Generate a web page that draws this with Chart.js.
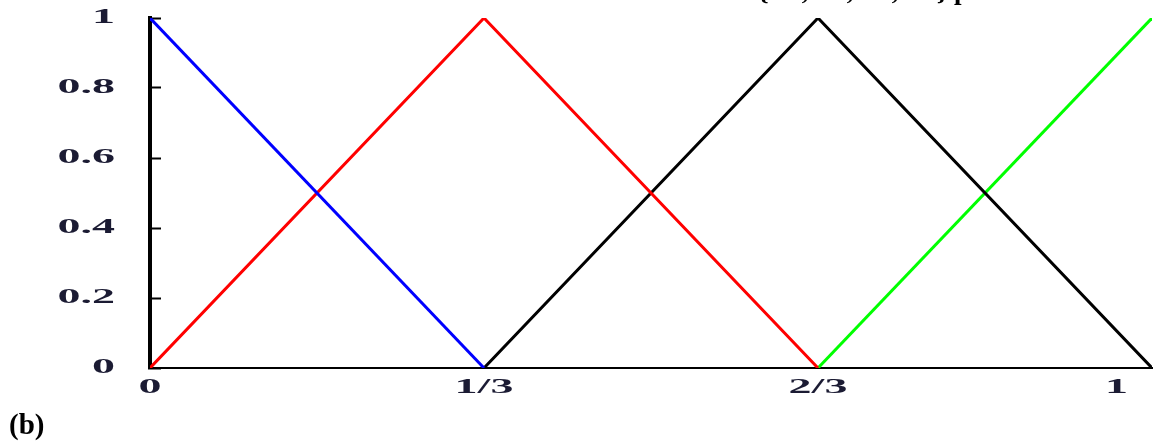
<!DOCTYPE html>
<html>
<head>
<meta charset="utf-8">
<script src="https://cdn.jsdelivr.net/npm/chart.js@4"></script>
<style>
  html, body { margin: 0; padding: 0; background: #fff; overflow: hidden; }
  #wrap { position: relative; width: 1154px; height: 444px; }
  #partChart { position: absolute; left: 0; top: 0; }
  .caption { position: absolute; font-family: "Liberation Serif", "Times New Roman", serif; font-weight: bold; color: #000; white-space: nowrap; }
  #panel { left: 9px; top: 408px; font-size: 29px; line-height: 32px; }
  #heading { left: 758px; top: -25px; font-size: 27px; line-height: 30px; }
</style>
</head>
<body>
<div id="wrap">
  <canvas id="partChart" width="1154" height="444"></canvas>
  <div class="caption" id="heading">{A1, A2, A3, A4} partition</div>
  <div class="caption" id="panel">(b)</div>
</div>
<script>
// x positions of the partition knots and their labels
const xKnots = [0, 1/3, 2/3, 1];
const xTickLabels = ['0', '1/3', '2/3', '1'];
const yTicks = [0, 0.2, 0.4, 0.6, 0.8, 1];
const yTickLabels = ['0', '0.2', '0.4', '0.6', '0.8', '1'];

// membership values at the knots for each triangular set
const blueX = [0, 1/3];
const blueY = [1, 0];
const redX = [0, 1/3, 2/3];
const redY = [0, 1, 0];
const blackX = [1/3, 2/3, 1];
const blackY = [0, 1, 0];
const greenX = [2/3, 1];
const greenY = [0, 1];

function pts(xs, ys) {
  return xs.map((x, i) => ({ x: x, y: ys[i] }));
}

function series(xs, ys, color) {
  return {
    data: pts(xs, ys),
    borderColor: color,
    backgroundColor: color,
    borderWidth: 3,
    pointRadius: 0,
    tension: 0,
    fill: false
  };
}

// the tick text is drawn wide (stretched horizontally), like old plot output
const STRETCH = 2.3;
const wideLabels = {
  id: 'wideLabels',
  afterDraw(chart) {
    const c = chart.ctx;
    const xs = chart.scales.x, ys = chart.scales.y;
    c.save();
    c.font = 'bold 20px "Liberation Serif", serif';
    c.fillStyle = '#1b1b33';

    c.textAlign = 'right';
    c.textBaseline = 'middle';
    ys.ticks.forEach((t, i) => {
      c.save();
      c.translate(ys.right - 35, ys.getPixelForValue(t.value));
      c.scale(STRETCH, 1);
      c.fillText(yTickLabels[i], 0, 0);
      c.restore();
    });

    c.textAlign = 'center';
    c.textBaseline = 'top';
    xs.ticks.forEach((t, i) => {
      const w = c.measureText(xTickLabels[i]).width * STRETCH;
      let px = xs.getPixelForValue(t.value);
      // keep the last label off the canvas edge
      px = Math.min(px, chart.width - 26 - w / 2);
      c.save();
      c.translate(px, xs.top + 10);
      c.scale(STRETCH, 1);
      c.fillText(xTickLabels[i], 0, 0);
      c.restore();
    });
    c.restore();
  }
};

const noPad = s => { s.paddingTop = 0; s.paddingBottom = 0; s.paddingLeft = 0; s.paddingRight = 0; };

const ctx = document.getElementById('partChart').getContext('2d');
const part_chart = new Chart(ctx, {
  type: 'line',
  data: {
    datasets: [
      series(blueX, blueY, '#0000ff'),
      series(redX, redY, '#ff0000'),
      series(blackX, blackY, '#000000'),
      series(greenX, greenY, '#00ff00')
    ]
  },
  plugins: [wideLabels],
  options: {
    responsive: false,
    animation: false,
    layout: { padding: { left: 0, right: 2, top: 18, bottom: 0 } },
    plugins: { legend: { display: false }, tooltip: { enabled: false } },
    scales: {
      x: {
        type: 'linear',
        min: 0,
        max: 1,
        afterBuildTicks: s => { s.ticks = xKnots.map(v => ({ value: v })); },
        afterFit: s => { s.height = 76; noPad(s); },
        ticks: { display: false, autoSkip: false },
        grid: { display: true, drawOnChartArea: false, drawTicks: false },
        border: { display: true, color: '#000', width: 2 }
      },
      y: {
        type: 'linear',
        min: 0,
        max: 1,
        afterBuildTicks: s => { s.ticks = yTicks.map(v => ({ value: v })); },
        afterFit: s => { s.width = 150; noPad(s); },
        ticks: { display: false, autoSkip: false },
        grid: { drawOnChartArea: false, drawTicks: true, tickLength: -11, tickWidth: 2, tickColor: '#000' },
        border: { display: true, color: '#000', width: 4 }
      }
    }
  }
});
</script>
</body>
</html>
